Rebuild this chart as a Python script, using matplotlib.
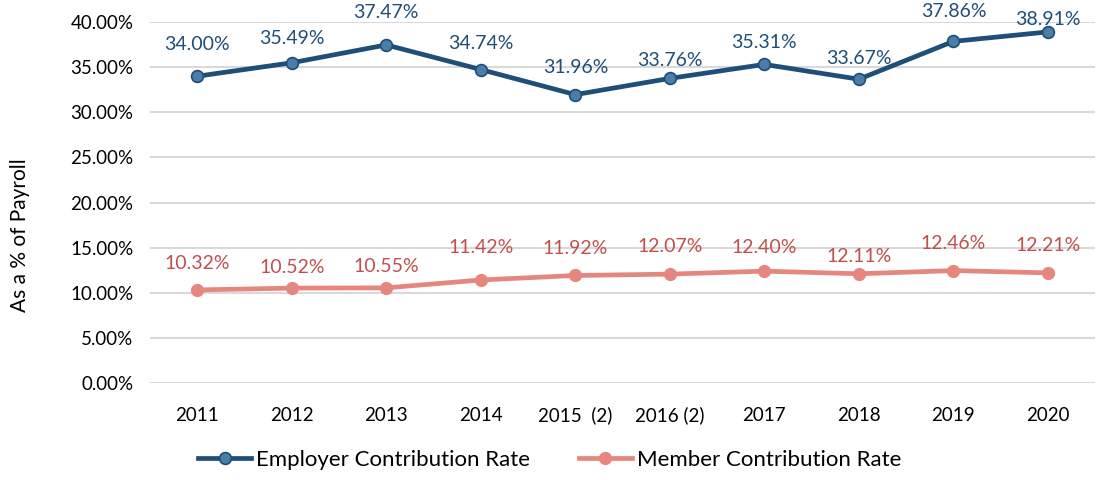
import matplotlib.pyplot as plt

plt.rcParams['font.family'] = ['Lato', 'DejaVu Sans']

years = ["2011", "2012", "2013", "2014", "2015  (2)", "2016 (2)", "2017", "2018", "2019", "2020"]
employer = [34.00, 35.49, 37.47, 34.74, 31.96, 33.76, 35.31, 33.67, 37.86, 38.91]
member = [10.32, 10.52, 10.55, 11.42, 11.92, 12.07, 12.40, 12.11, 12.46, 12.21]

# label offsets above the points, in pixels
emp_off = [32, 24, 32, 26, 27, 18, 22, 21, 30, 12]
mem_off = [26, 21, 21, 32, 27, 28, 24, 17, 27, 27]

blue = "#1F4E79"
blue_face = "#4A7EA6"
pink = "#E6877F"
red_text = "#C0504D"

fig = plt.figure(figsize=(10.99, 4.8), dpi=100)
ax = fig.add_axes([0.1365, 0.202, 0.86, 0.752])

x = list(range(len(years)))
ax.plot(x, employer, color=blue, lw=3.4, marker="o", ms=8.5,
        mfc=blue_face, mec=blue, mew=1.2, label="Employer Contribution Rate", zorder=3)
ax.plot(x, member, color=pink, lw=3.4, marker="o", ms=8.5,
        mfc=pink, mec=pink, label="Member Contribution Rate", zorder=3)

for i in x:
    ax.annotate(f"{employer[i]:.2f}%", (i, employer[i]), xytext=(0, emp_off[i] * 0.72),
                textcoords="offset points", ha="center", va="center",
                color=blue, fontsize=14)
    ax.annotate(f"{member[i]:.2f}%", (i, member[i]), xytext=(0, mem_off[i] * 0.72),
                textcoords="offset points", ha="center", va="center",
                color=red_text, fontsize=14)

ax.set_xlim(-0.5, len(years) - 0.5)
ax.set_ylim(0, 40)
ax.set_yticks(range(0, 41, 5))
ax.set_yticklabels([f"{v:.2f}%" for v in range(0, 41, 5)])
ax.set_xticks(x)
ax.set_xticklabels(years)
ax.grid(axis="y", color="#D9D9D9", lw=1.5)
ax.set_axisbelow(True)
for s in ax.spines.values():
    s.set_visible(False)
ax.tick_params(axis="both", length=0, labelsize=13.5)
ax.tick_params(axis="x", pad=17)
ax.tick_params(axis="y", pad=12)
ax.set_ylabel("As a % of Payroll", fontsize=15)
ax.yaxis.set_label_coords(-0.127, 0.41)

fig.legend(loc="lower center", bbox_to_anchor=(0.5, -0.02), ncol=2, frameon=False,
           fontsize=16, handlelength=2.4, columnspacing=2.2, handletextpad=0.2)

fig.savefig("out.png", dpi=100)
